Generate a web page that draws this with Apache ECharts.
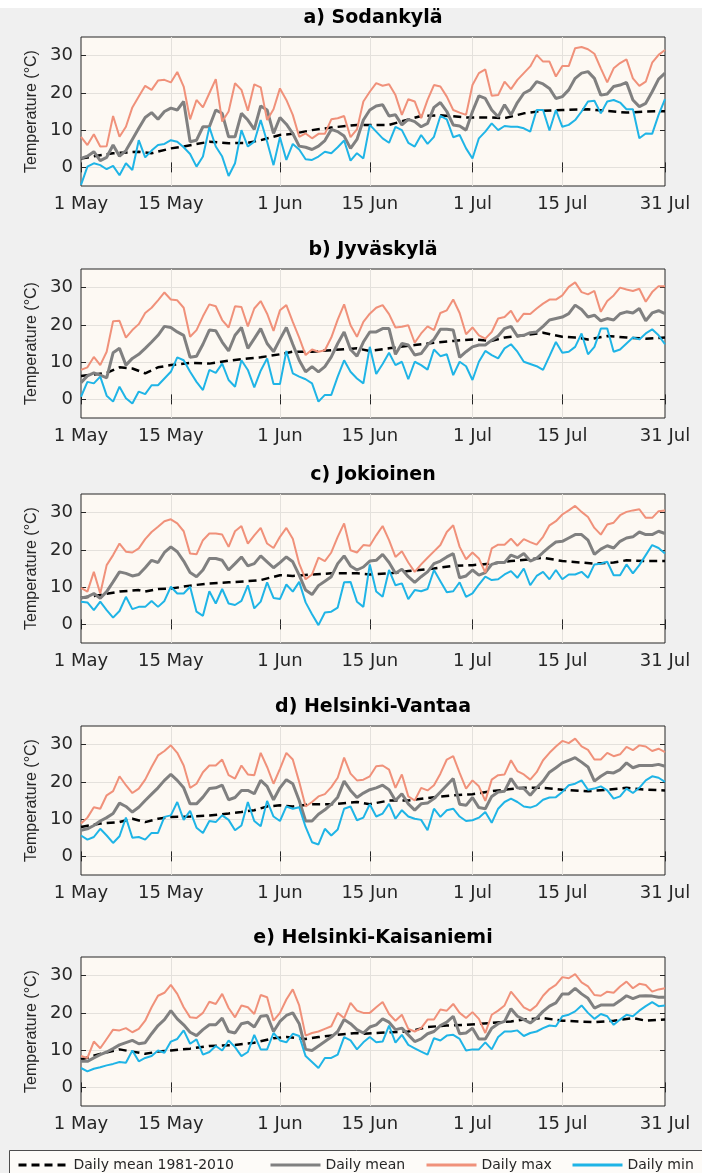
<!DOCTYPE html>
<html>
<head>
<meta charset="utf-8">
<script src="https://cdn.jsdelivr.net/npm/echarts@6/dist/echarts.min.js"></script>
<style>
html,body{margin:0;padding:0;background:#f0f0f0}
#chart{width:702px;height:1173px}
</style>
</head>
<body>
<div id="chart"></div>
<script>
// days since 1 May (0..91), tick days and labels
const tickDays = [0, 14, 31, 45, 61, 75, 91]
const tickLabels = ['1 May', '15 May', '1 Jun', '15 Jun', '1 Jul', '15 Jul', '31 Jul']
const gridDays = [14, 31, 45, 61, 75]
const yTicks = [0, 10, 20, 30]
const titles = ['a) Sodankylä', 'b) Jyväskylä', 'c) Jokioinen', 'd) Helsinki-Vantaa', 'e) Helsinki-Kaisaniemi']

// a) Sodankylä
const maxA = [8.2,6.0,8.9,5.6,5.7,13.8,8.2,10.9,16.1,19.0,21.9,20.8,23.3,23.5,22.8,25.6,21.7,12.9,18.1,16.1,19.9,23.7,12.3,15.0,22.6,20.8,15.2,22.3,21.5,12.7,15.6,21.2,18.1,14.1,8.2,9.1,7.8,9.0,9.0,12.9,13.2,13.8,8.1,10.2,
  17.7,20.3,22.6,21.9,22.3,19.4,14.1,18.3,17.7,13.2,18.1,22.1,21.7,19.0,15.4,14.7,14.1,22.1,25.3,26.3,19.2,19.4,23.0,21.0,23.5,25.3,27.1,30.2,28.4,28.4,24.4,27.2,27.2,32.0,32.3,31.7,30.5,26.6,22.8,26.6,28.0,29.0,23.9,21.9,23.0,28.1,30.2,31.5]
const meanA = [2.4,3.0,4.2,1.8,2.7,6.0,3.0,4.5,7.5,10.5,13.4,14.7,12.9,15.0,15.9,15.4,17.7,6.9,7.3,10.9,10.9,15.4,14.5,8.2,8.2,14.5,12.7,10.2,16.5,15.4,9.1,13.4,11.6,9.1,5.7,5.4,4.8,5.7,7.2,10.2,9.6,8.4,5.1,7.5,
  12.7,15.4,16.5,16.8,13.8,14.1,11.4,12.9,12.3,10.9,11.8,16.1,17.4,15.0,11.4,11.1,10.0,15.0,19.2,18.5,15.4,13.6,16.8,14.1,17.4,19.9,20.8,23.0,22.4,21.2,18.5,19.0,20.8,23.9,25.3,25.7,23.9,19.4,19.7,21.7,22.1,22.8,18.1,16.3,17.2,20.3,23.7,25.3]
const minA = [-4.7,0.2,1.1,0.6,-0.5,0.4,-2.1,1.1,-0.7,7.3,2.7,4.5,6.0,6.3,7.3,6.9,5.4,3.6,0.2,2.9,10.8,5.6,2.9,-2.3,1.1,10.0,5.6,6.9,12.7,6.9,0.6,8.1,2.0,6.3,4.8,2.2,2.0,2.9,4.2,3.8,5.4,7.2,1.8,3.8,
  2.4,11.4,9.6,7.8,6.6,10.9,10.0,6.6,5.6,8.7,6.3,8.2,13.8,12.9,8.1,8.7,5.1,2.4,7.8,9.6,11.8,10.0,11.1,10.9,10.9,10.5,9.6,15.4,15.4,9.9,15.4,10.9,11.4,12.7,15.0,17.7,17.9,14.5,17.7,18.1,17.4,15.6,15.6,7.8,9.1,9.0,14.1,18.3]
const climA = [[0,2.4],[5,3.8],[9,4.2],[11,3.8],[14,5.1],[16,5.6],[20,6.9],[23,6.5],[26,6.6],[28,7.3],[31,8.7],[33,9.0],[36,10.0],[39,10.7],[43,11.4],[45,11.4],[48,11.4],[53,13.8],[56,14.0],[60,13.4],[64,13.4],[66,13.2],[69,14.5],[72,15.2],[75,15.4],[79,15.6],[83,15.0],[85,14.7],[88,15.0],[91,15.1]]

// b) Jyväskylä
const maxB = [7.9,8.6,11.4,9.2,12.8,21.0,21.1,16.6,18.6,20.2,23.2,24.6,26.6,28.7,26.8,26.6,24.6,16.8,18.6,22.3,25.5,25.0,21.3,19.3,25.0,24.8,19.6,24.4,26.4,23.0,18.4,23.9,25.3,20.8,16.6,11.9,13.4,12.8,13.2,16.6,21.4,25.5,19.9,16.8,
  20.8,23.0,24.6,25.3,22.9,19.3,19.5,19.9,15.2,17.7,19.6,18.6,23.2,23.9,26.8,23.2,17.5,19.3,17.2,16.3,18.1,21.7,22.1,23.8,20.8,23.0,22.9,24.4,25.7,26.8,26.8,27.9,30.2,31.4,28.8,28.2,29.1,23.5,26.4,27.9,30.0,29.5,29.1,29.7,26.2,28.8,30.4,30.4]
const meanB = [4.5,6.3,7.1,6.5,5.8,12.5,13.7,9.2,11.0,12.1,13.7,15.4,17.2,19.6,19.3,18.1,17.2,11.3,11.6,14.8,18.6,18.4,15.4,13.0,17.2,19.3,13.7,16.3,19.0,15.0,12.8,16.1,19.3,14.8,10.5,7.4,8.8,7.4,8.8,11.4,15.0,18.1,13.4,11.6,
  15.4,18.1,18.1,19.0,19.0,12.1,15.0,14.6,11.9,12.3,14.6,16.1,18.8,18.8,18.6,11.3,12.8,14.1,14.6,14.6,15.9,17.0,19.0,19.6,17.0,17.2,17.9,18.1,19.6,21.3,21.7,22.1,23.0,25.3,24.1,22.1,22.6,21.1,21.7,21.3,23.0,23.5,23.2,24.4,21.1,23.2,23.8,23.0]
const minB = [0.7,4.7,4.3,6.1,1.0,-0.6,3.4,0.3,-1.1,2.1,1.4,3.8,3.8,5.6,7.4,11.3,10.5,7.4,4.7,2.5,7.9,7.1,9.6,5.2,3.4,10.5,7.9,3.2,7.7,11.0,4.1,4.1,13.0,7.0,6.1,5.4,4.3,-0.6,1.2,1.2,6.1,10.5,7.4,5.6,
  4.3,14.1,6.8,9.5,12.5,9.2,10.1,5.4,10.1,9.2,8.0,13.4,11.6,12.1,6.5,10.1,8.9,5.2,10.1,13.0,11.9,11.0,13.7,14.8,12.8,10.1,9.5,8.9,7.9,11.6,15.4,12.5,12.8,14.1,17.7,12.1,14.1,19.0,19.0,12.8,13.4,15.0,16.6,16.1,17.7,18.8,17.2,14.8]
const climB = [[0,6.3],[4,7.1],[6,8.6],[8,8.3],[10,7.0],[12,8.6],[14,9.2],[17,9.8],[20,9.6],[23,10.4],[26,11.0],[28,11.3],[31,12.1],[33,12.8],[36,12.8],[39,13.2],[43,13.7],[45,13.0],[48,13.7],[52,14.6],[55,15.2],[58,15.7],[61,16.1],[64,15.7],[66,16.6],[69,17.2],[72,17.9],[75,16.8],[77,16.6],[79,16.1],[82,17.0],[85,16.6],[88,16.3],[91,16.6]]

// c) Jokioinen
const maxC = [9.8,8.8,14.1,8.3,15.9,18.6,21.7,19.5,19.3,20.4,22.9,24.8,26.2,27.7,28.2,27.1,25.0,19.0,18.8,22.6,24.4,24.4,24.1,20.8,25.0,26.4,21.7,23.9,25.9,21.7,20.5,23.5,25.9,23.0,16.3,12.1,13.4,17.9,17.0,19.3,23.5,27.1,19.9,19.3,
  21.3,21.1,23.9,26.4,22.6,18.1,19.6,16.6,14.1,16.1,17.9,19.6,21.3,24.8,26.6,20.8,17.5,19.3,17.7,13.9,20.4,21.4,21.4,23.0,21.1,22.9,22.1,21.4,23.5,26.6,27.7,29.5,30.6,31.8,30.2,28.8,25.9,24.1,26.8,27.3,29.3,30.2,30.6,30.9,28.6,28.6,30.4,30.6]
const meanC = [7.1,7.4,8.3,7.0,8.8,11.4,14.1,13.7,13.0,13.4,15.2,17.2,16.6,19.3,20.8,19.5,17.0,13.9,12.8,14.6,17.7,17.7,17.2,14.6,16.3,18.1,15.7,16.3,18.4,16.8,15.2,16.6,18.1,16.8,13.2,9.2,8.0,10.4,11.6,12.8,16.3,18.4,15.7,14.6,
  15.4,17.0,17.2,18.8,16.6,13.7,14.8,12.8,11.3,12.8,14.1,16.3,17.0,18.1,19.0,12.5,13.0,14.6,13.2,13.9,16.1,16.6,16.6,18.6,17.9,19.0,17.0,17.7,19.3,20.8,22.1,22.3,23.2,24.1,24.1,22.6,18.8,20.2,21.1,20.5,22.3,23.2,23.5,24.8,24.1,24.1,25.0,24.4]
const minC = [6.1,5.9,3.8,6.1,3.8,1.8,3.6,7.4,4.1,4.7,4.7,6.3,4.7,6.3,10.1,8.3,8.3,10.1,3.4,2.3,8.9,5.6,9.5,5.6,5.2,6.3,10.5,4.3,6.1,11.3,7.1,6.8,10.7,8.8,11.4,5.9,2.7,-0.2,3.2,3.4,4.5,11.3,11.4,6.1,
  4.7,16.1,8.8,7.4,14.6,10.5,11.0,6.8,9.2,8.9,9.5,14.6,11.6,8.6,8.9,11.3,7.4,8.3,10.7,12.8,11.9,12.1,13.4,14.3,12.5,15.0,10.5,13.0,14.1,12.1,14.6,12.1,13.4,13.4,14.1,12.5,16.1,16.3,16.8,13.2,13.2,16.1,13.7,15.9,18.6,21.3,20.5,19.0]
const climC = [[0,7.1],[3,7.9],[6,8.8],[9,9.2],[10,8.8],[12,9.5],[14,9.6],[17,10.4],[20,11.0],[23,11.3],[26,11.6],[28,11.9],[31,13.2],[33,13.0],[36,13.4],[39,13.7],[43,13.7],[45,13.4],[48,13.7],[51,14.3],[55,15.0],[58,15.7],[61,15.9],[64,16.3],[67,17.0],[70,17.5],[72,17.9],[75,17.0],[78,16.6],[80,16.3],[83,16.6],[85,17.2],[88,17.0],[91,17.0]]

// d) Helsinki-Vantaa
const maxD = [8.8,10.4,13.2,12.8,16.4,17.5,21.5,19.1,17.0,18.2,20.6,24.0,27.1,28.3,29.8,27.8,24.4,18.4,19.5,22.6,24.4,24.4,26.0,21.8,20.9,24.4,22.0,21.8,27.8,24.0,19.5,23.5,27.8,26.0,20.0,13.4,14.6,16.1,16.7,18.6,21.1,26.5,22.2,20.4,
  20.6,21.5,24.2,24.4,23.3,18.4,22.0,16.1,15.0,18.4,17.7,19.1,22.2,26.0,26.9,22.4,18.2,20.4,18.8,14.9,20.6,21.8,22.0,25.8,22.9,22.0,20.6,22.6,25.8,27.8,29.5,31.0,30.4,31.6,29.5,28.6,26.0,26.0,27.8,26.9,27.4,29.4,28.5,29.8,29.5,28.3,28.9,28.0]
const meanD = [7.0,7.4,8.3,9.5,10.4,11.5,14.3,13.4,11.9,13.2,15.0,16.7,18.4,20.4,22.0,20.4,18.4,14.1,14.1,15.9,18.2,18.4,19.1,15.2,15.8,17.7,17.7,16.8,20.4,18.8,15.2,18.4,20.6,19.5,15.0,9.5,9.5,11.3,12.5,14.0,15.9,20.2,17.7,15.8,
  17.0,17.9,18.4,19.1,17.9,15.0,16.8,14.1,12.4,14.1,14.3,15.5,17.3,19.1,20.9,14.0,13.7,15.8,13.1,12.8,16.1,17.3,17.5,20.9,18.4,18.2,16.4,18.4,20.2,22.6,23.8,25.1,25.8,26.5,25.3,24.0,20.2,21.5,22.6,22.4,23.3,25.1,23.8,24.4,24.4,24.4,24.7,24.2]
const minD = [5.6,4.5,5.2,7.4,5.6,3.6,5.4,10.4,5.0,5.2,4.5,6.3,6.3,10.6,11.0,14.6,9.8,12.2,7.7,6.3,9.5,9.2,11.0,9.8,7.0,8.3,14.6,9.5,8.1,14.9,10.7,9.5,13.4,12.8,13.2,7.9,3.8,3.2,7.4,5.6,7.2,12.8,13.4,9.7,
  10.4,14.0,10.7,11.5,14.1,10.1,12.4,10.7,10.1,9.8,7.0,12.8,10.6,12.4,12.8,10.7,9.5,9.7,10.4,11.9,9.0,12.8,14.6,15.5,14.6,13.4,13.1,13.7,15.2,15.8,15.9,17.3,19.1,19.5,20.4,17.9,18.2,18.8,17.7,15.5,16.1,18.2,17.0,18.4,20.4,21.5,21.1,20.0]
const climD = [[0,7.9],[3,8.8],[6,9.2],[8,10.1],[10,9.2],[12,10.1],[14,10.6],[17,10.7],[20,11.0],[23,11.5],[25,11.9],[27,12.4],[29,13.4],[31,13.7],[33,13.4],[36,14.0],[39,14.0],[43,14.6],[45,14.0],[48,15.0],[51,15.0],[55,15.9],[58,16.4],[61,16.7],[64,17.5],[66,17.9],[69,18.4],[72,18.4],[75,17.9],[79,17.5],[82,17.9],[85,18.4],[88,17.9],[91,17.7]]

// e) Helsinki-Kaisaniemi
const maxE = [8.4,7.9,12.3,10.5,13.0,15.5,15.3,15.9,14.8,15.7,17.9,21.5,24.6,25.4,27.5,25.1,21.5,18.8,18.6,20.0,23.0,22.4,25.1,21.3,18.8,22.0,21.5,19.7,24.8,24.2,17.9,20.0,23.6,26.3,22.0,13.9,14.6,15.0,15.7,16.4,20.0,18.6,22.7,20.6,
  20.0,20.0,21.5,22.9,19.7,17.9,19.5,15.7,15.0,15.9,18.2,18.2,20.9,20.6,22.4,20.0,18.6,20.2,18.4,14.6,19.5,20.6,22.0,25.7,23.6,21.5,20.6,22.0,24.6,26.4,27.5,29.6,29.3,30.4,28.2,27.1,24.8,24.6,25.7,25.4,27.1,28.4,26.6,27.8,27.5,25.7,26.3,26.6]
const meanE = [7.0,7.0,7.9,8.8,9.5,10.4,11.4,12.0,12.6,11.7,12.0,14.4,16.6,18.2,20.6,18.4,16.8,14.8,13.9,15.5,16.8,16.8,18.6,15.0,14.6,17.1,17.5,16.2,19.1,19.3,15.0,17.7,19.3,20.0,17.1,10.2,9.9,11.1,12.3,13.5,15.0,18.2,17.1,15.5,
  14.6,16.2,16.8,18.4,17.5,15.5,15.9,14.1,12.3,13.0,14.4,15.0,16.6,17.5,19.1,14.4,14.6,15.9,13.0,13.0,15.9,17.1,17.7,21.1,19.1,18.2,17.3,18.6,20.4,21.8,22.7,25.1,25.1,26.6,25.1,23.9,21.3,22.1,22.1,22.1,23.3,24.6,23.8,24.5,24.6,24.5,24.2,24.2]
const minE = [5.2,4.3,5.0,5.4,5.9,6.3,6.8,6.6,9.9,7.0,7.9,8.4,9.9,9.3,12.3,13.0,15.3,11.7,12.9,8.8,9.5,11.1,9.9,12.6,10.8,8.4,9.5,14.1,10.2,10.2,14.6,12.6,12.1,14.4,13.8,8.4,6.8,5.2,7.9,7.9,8.8,13.5,12.6,10.2,
  12.1,13.5,12.1,12.3,16.6,12.0,14.1,11.4,10.5,9.6,8.8,13.2,12.6,13.9,14.1,13.0,9.9,10.2,10.2,12.1,10.2,13.5,15.0,15.0,15.3,13.8,14.6,15.0,15.9,16.6,16.4,19.1,19.5,20.4,22.0,20.0,18.4,19.7,19.1,16.8,18.2,19.5,19.1,20.6,21.8,22.9,21.8,22.0]
const climE = [[0,7.5],[3,9.0],[6,10.2],[8,9.6],[10,9.0],[12,9.6],[14,9.9],[17,10.4],[20,11.1],[24,11.4],[27,12.0],[30,13.2],[32,13.5],[35,13.0],[37,13.5],[40,14.1],[43,14.6],[44,14.4],[48,14.8],[51,15.0],[54,16.2],[57,16.6],[60,16.8],[64,17.3],[67,17.7],[69,18.2],[72,18.6],[75,17.9],[80,17.5],[83,17.9],[86,18.6],[88,17.9],[91,18.2]]

const stations = [
  {clim: climA, mean: meanA, max: maxA, min: minA},
  {clim: climB, mean: meanB, max: maxB, min: minB},
  {clim: climC, mean: meanC, max: maxC, min: minC},
  {clim: climD, mean: meanD, max: maxD, min: minD},
  {clim: climE, mean: meanE, max: maxE, min: minE}
]

// layout
const tops = [37, 269, 494, 726, 957]
const plotH = 149
const plotLeft = 81, plotRight = 37
const dark = '#262626'
const tickFont = 'DejaVu Sans'

let days = []
for (let i = 0; i < maxA.length; i++) days.push(String(i))

let chart = echarts.init(document.getElementById('chart'), null, {renderer: 'canvas'})

let grid = [], xAxis = [], yAxis = [], series = [], title = []
stations.forEach((st, i) => {
  grid.push({
    left: plotLeft, right: plotRight, top: tops[i], height: plotH,
    show: true, backgroundColor: '#fdf9f3', borderColor: dark, borderWidth: 1
  })
  title.push({
    text: titles[i], left: 373, top: tops[i] - 28, textAlign: 'center', padding: 0,
    textStyle: {fontFamily: tickFont, fontWeight: 'bold', fontSize: 19, color: '#000'}
  })
  // bottom axis with labels
  xAxis.push({
    type: 'category', gridIndex: i, data: days, boundaryGap: false,
    axisLine: {show: false},
    axisTick: {show: true, inside: true, length: 5, interval: idx => tickDays.includes(idx), lineStyle: {color: dark}},
    axisLabel: {
      interval: idx => tickDays.includes(idx),
      formatter: v => tickLabels[tickDays.indexOf(+v)] || '',
      fontFamily: tickFont, fontSize: 18, color: dark, margin: 9
    },
    splitLine: {show: true, interval: idx => gridDays.includes(idx), lineStyle: {color: '#e4e1dc', width: 1}}
  })
  // top axis, ticks only
  xAxis.push({
    type: 'category', gridIndex: i, data: days, boundaryGap: false, position: 'top',
    axisLine: {show: false},
    axisTick: {show: true, inside: true, length: 5, interval: idx => tickDays.includes(idx), lineStyle: {color: dark}},
    axisLabel: {show: false}, splitLine: {show: false}
  })
  yAxis.push({
    type: 'value', gridIndex: i, min: -5, max: 35, splitNumber: 4,
    name: 'Temperature (°C)', nameLocation: 'middle', nameGap: 30,
    nameTextStyle: {fontFamily: 'Liberation Sans', fontSize: 16, color: dark},
    axisLine: {show: false},
    axisTick: {show: true, inside: true, length: 5, customValues: yTicks, lineStyle: {color: dark}},
    axisLabel: {customValues: yTicks, fontFamily: tickFont, fontSize: 18, color: dark, margin: 8},
    splitLine: {show: true, lineStyle: {color: '#e4e1dc', width: 1}}
  })
  yAxis.push({
    type: 'value', gridIndex: i, min: -5, max: 35, splitNumber: 4, position: 'right',
    axisLine: {show: false},
    axisTick: {show: true, inside: true, length: 5, customValues: yTicks, lineStyle: {color: dark}},
    axisLabel: {show: false}, splitLine: {show: false}
  })
  let base = {type: 'line', xAxisIndex: 2 * i, yAxisIndex: 2 * i, symbol: 'none', silent: true, animation: false}
  series.push(Object.assign({}, base, {
    name: 'Daily mean 1981-2010', data: st.clim,
    lineStyle: {color: '#000', width: 2.5, type: [8, 5]}, itemStyle: {color: '#000'}
  }))
  series.push(Object.assign({}, base, {
    name: 'Daily mean', data: st.mean,
    lineStyle: {color: '#808080', width: 3}, itemStyle: {color: '#808080'}
  }))
  series.push(Object.assign({}, base, {
    name: 'Daily max', data: st.max,
    lineStyle: {color: '#f0917a', width: 2}, itemStyle: {color: '#f0917a'}
  }))
  series.push(Object.assign({}, base, {
    name: 'Daily min', data: st.min,
    lineStyle: {color: '#1fb4e6', width: 2}, itemStyle: {color: '#1fb4e6'}
  }))
})

const legendNames = ['Daily mean 1981-2010', 'Daily mean', 'Daily max', 'Daily min']
const legendLeft = [17, 269, 425, 571]
let legend = legendNames.map((n, k) => ({
  data: [n], left: legendLeft[k], top: 1158, padding: 0, itemWidth: 50, itemHeight: 14,
  selectedMode: false,
  itemStyle: {opacity: 0},
  lineStyle: {width: 3},
  textStyle: {fontFamily: tickFont, fontSize: 14, color: dark}
}))

let options = {
  backgroundColor: '#f0f0f0',
  animation: false,
  title: title,
  grid: grid,
  xAxis: xAxis,
  yAxis: yAxis,
  legend: legend,
  series: series,
  graphic: [
    {type: 'rect', shape: {x: 0, y: 0, width: 702, height: 8}, style: {fill: '#ffffff'}, silent: true},
    {type: 'rect', shape: {x: 9.5, y: 1150.5, width: 700, height: 30}, style: {fill: '#fdfbf8', stroke: '#4d4d4d', lineWidth: 1}, silent: true}
  ]
}
chart.setOption(options)
</script>
</body>
</html>
